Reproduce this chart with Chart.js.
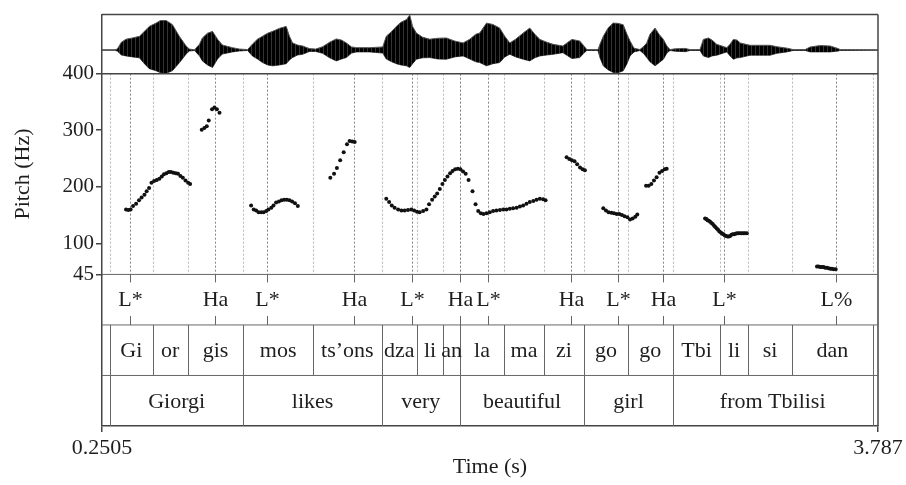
<!DOCTYPE html>
<html>
<head>
<meta charset="utf-8">
<title>Pitch track with TextGrid</title>
<script src="https://cdn.jsdelivr.net/npm/chart.js@4.4.1/dist/chart.umd.min.js"></script>
<style>
  html, body { margin: 0; padding: 0; background: #fff; }
</style>
</head>
<body>
<canvas id="pitchChart" width="906" height="485"></canvas>
<script>
// Time axis
const timeTicks = [0.2505, 3.787];
const xTickLabels = ['0.2505', '3.787'];
const pitchTicks = [45, 100, 200, 300, 400];

// Waveform envelope (upper / lower amplitude, arbitrary units)
const waveTime = [0.2505, 0.307, 0.320, 0.339, 0.360, 0.389, 0.421, 0.444, 0.466, 0.497, 0.517, 0.543, 0.571, 0.603, 0.634, 0.649, 0.672,
  0.695, 0.708, 0.731, 0.754, 0.777, 0.799, 0.845, 0.877, 0.914, 0.936, 0.959, 0.982, 1.005, 1.028, 1.060, 1.090, 1.105, 1.119, 1.142,
  1.165, 1.196, 1.224, 1.256, 1.288, 1.318, 1.342, 1.364, 1.388, 1.411, 1.470, 1.530, 1.546, 1.571, 1.592, 1.612, 1.638, 1.653, 1.666,
  1.683, 1.712, 1.744, 1.781, 1.820, 1.858, 1.896, 1.927, 1.954, 1.972, 2.003, 2.032, 2.063, 2.086, 2.109, 2.136, 2.170, 2.200, 2.223,
  2.246, 2.278, 2.307, 2.351, 2.374, 2.392, 2.428, 2.447, 2.460, 2.511, 2.520, 2.535, 2.556, 2.580, 2.602, 2.626, 2.643, 2.657, 2.675,
  2.702, 2.721, 2.733, 2.748, 2.771, 2.789, 2.809, 2.825, 2.839, 2.862, 2.908, 2.930, 2.976, 2.991, 3.014, 3.031, 3.052, 3.098, 3.113,
  3.128, 3.145, 3.159, 3.204, 3.295, 3.326, 3.372, 3.400, 3.455, 3.478, 3.524, 3.569, 3.600, 3.615, 3.787];
const waveUpper = [0.01, 0.01, 0.04, 0.33, 0.46, 0.51, 0.58, 0.79, 1.0, 1.14, 1.25, 1.25, 1.08, 0.58, 0.17, 0.04, 0.01,
  0.25, 0.51, 0.71, 0.79, 0.46, 0.21, 0.10, 0.04, 0.02, 0.25, 0.46, 0.58, 0.71, 0.79, 0.92, 1.0, 0.58, 0.30, 0.21,
  0.17, 0.06, 0.04, 0.14, 0.33, 0.47, 0.42, 0.30, 0.13, 0.10, 0.10, 0.13, 0.58, 0.79, 1.0, 1.17, 1.29, 1.48, 1.0,
  0.72, 0.54, 0.46, 0.50, 0.51, 0.38, 0.30, 0.46, 0.67, 0.72, 1.14, 1.08, 0.93, 0.58, 0.30, 0.46, 0.72, 0.93, 0.67,
  0.45, 0.33, 0.24, 0.17, 0.33, 0.45, 0.38, 0.17, 0.02, 0.02, 0.25, 0.58, 0.92, 1.14, 1.13, 1.07, 0.67, 0.38, 0.08,
  0.02, 0.17, 0.30, 0.67, 0.93, 0.67, 0.45, 0.17, 0.02, 0.05, 0.07, 0.02, 0.02, 0.45, 0.51, 0.42, 0.24, 0.10, 0.25,
  0.45, 0.42, 0.30, 0.20, 0.20, 0.14, 0.08, 0.02, 0.02, 0.13, 0.19, 0.17, 0.08, 0.02, 0.01];
const waveLower = [-0.01, -0.01, -0.04, -0.21, -0.25, -0.29, -0.33, -0.58, -0.79, -0.88, -0.96, -0.98, -0.88, -0.54, -0.17, -0.04, -0.02,
  -0.25, -0.46, -0.63, -0.74, -0.38, -0.17, -0.08, -0.04, -0.02, -0.25, -0.38, -0.53, -0.63, -0.67, -0.63, -0.58, -0.42, -0.32, -0.21,
  -0.18, -0.06, -0.06, -0.14, -0.33, -0.46, -0.38, -0.32, -0.13, -0.08, -0.08, -0.13, -0.38, -0.50, -0.58, -0.63, -0.67, -0.74, -0.58,
  -0.39, -0.33, -0.32, -0.38, -0.39, -0.29, -0.25, -0.38, -0.50, -0.53, -0.67, -0.58, -0.53, -0.29, -0.18, -0.29, -0.39, -0.46, -0.33,
  -0.25, -0.21, -0.18, -0.11, -0.25, -0.36, -0.32, -0.13, -0.02, -0.02, -0.33, -0.67, -0.83, -0.95, -0.96, -0.88, -0.58, -0.25, -0.08,
  -0.02, -0.17, -0.32, -0.50, -0.67, -0.54, -0.39, -0.13, -0.02, -0.05, -0.07, -0.02, -0.02, -0.25, -0.32, -0.25, -0.22, -0.08, -0.25,
  -0.39, -0.33, -0.32, -0.22, -0.22, -0.14, -0.08, -0.02, -0.02, -0.08, -0.08, -0.08, -0.05, -0.02, -0.01];

// F0 samples (s, Hz)
const pitchTime = [
  0.360, 0.370, 0.381, 0.392, 0.406, 0.419, 0.431, 0.444, 0.454, 0.465, 0.476, 0.488, 0.500, 0.512, 0.523, 0.533, 0.544, 0.555,
  0.565, 0.576, 0.587, 0.597, 0.608, 0.619, 0.631, 0.643, 0.652,
  0.705, 0.717, 0.728, 0.737, 0.752, 0.763, 0.774, 0.786,
  0.930, 0.942, 0.953, 0.964, 0.976, 0.987, 0.999, 1.009, 1.022, 1.032, 1.044, 1.057, 1.069, 1.081, 1.093, 1.105, 1.117, 1.130, 1.143,
  1.291, 1.308, 1.321, 1.336, 1.352, 1.367, 1.379, 1.391, 1.402,
  1.546, 1.559, 1.571, 1.584, 1.600, 1.615, 1.630, 1.645, 1.660, 1.673, 1.686, 1.698, 1.714, 1.729, 1.741, 1.755, 1.767, 1.778,
  1.790, 1.802, 1.813, 1.825, 1.837, 1.848, 1.860, 1.872, 1.884, 1.896, 1.908, 1.921, 1.939, 1.953, 1.965, 1.977, 1.989, 2.003,
  2.018, 2.033, 2.048, 2.064, 2.079, 2.094, 2.109, 2.124, 2.140, 2.155, 2.170, 2.185, 2.200, 2.216, 2.231, 2.246, 2.261, 2.272,
  2.368, 2.380, 2.392, 2.404, 2.416, 2.429, 2.441, 2.451,
  2.535, 2.547, 2.559, 2.572, 2.584, 2.596, 2.608, 2.620, 2.632, 2.645, 2.657, 2.669, 2.681, 2.690,
  2.730, 2.742, 2.754, 2.766, 2.778, 2.791, 2.803, 2.815, 2.824,
  2.999, 3.005, 3.010, 3.016, 3.022, 3.028, 3.034, 3.040, 3.046, 3.052, 3.058, 3.064, 3.071, 3.077, 3.083, 3.089, 3.095, 3.101,
  3.107, 3.113, 3.119, 3.125, 3.131, 3.138, 3.144, 3.151, 3.159, 3.166, 3.174, 3.181, 3.189,
  3.509, 3.516, 3.524, 3.531, 3.539, 3.546, 3.554, 3.562, 3.570, 3.577, 3.585, 3.594];
const pitchHz = [
  160, 159, 160, 166, 170, 176, 181, 186, 192, 198, 207, 210, 212, 214, 218, 222, 224, 226,
  226, 225, 224, 223, 219, 216, 211, 207, 205,
  301, 304, 307, 317, 337, 340, 337, 331,
  167, 160, 158, 155, 155, 155, 157, 160, 163, 167, 172, 174, 176, 177, 177, 176, 174, 171, 166,
  216, 223, 233, 247, 261, 275, 281, 280, 279,
  179, 173, 167, 163, 160, 158, 158, 159, 160, 158, 156, 155, 157, 160, 169, 177, 183, 188,
  196, 205, 212, 218, 224, 228, 231, 232, 231, 227, 223, 212, 192, 169, 157, 153, 152, 153,
  155, 157, 158, 159, 160, 160, 161, 162, 163, 165, 167, 170, 173, 175, 177, 179, 178, 176,
  252, 249, 247, 245, 240, 234, 231, 229,
  162, 158, 155, 154, 153, 152, 152, 150, 148, 146, 142, 144, 147, 151,
  202, 202, 205, 211, 217, 225, 228, 231, 232,
  144, 143, 141, 140, 138, 136, 134, 131, 129, 126, 124, 121, 119, 117, 116, 114, 113, 112,
  112, 113, 115, 116, 116, 117, 118, 118, 118, 118, 118, 118, 118,
  59, 59, 58, 58, 58, 57, 57, 56, 55, 55, 54, 54];

// Tone tier (points)
const toneTimes = [0.378, 0.764, 1.002, 1.399, 1.661, 1.882, 2.010, 2.389, 2.603, 2.806, 3.083, 3.595];
const toneLabels = ['L*', 'Ha', 'L*', 'Ha', 'L*', 'Ha', 'L*', 'Ha', 'L*', 'Ha', 'L*', 'L%'];

// Syllable tier (interval boundaries)
const syllableBounds = [0.287, 0.481, 0.641, 0.895, 1.212, 1.525, 1.686, 1.805, 1.882, 2.083, 2.264, 2.448, 2.646, 2.852,
  3.068, 3.194, 3.396, 3.762];
const syllableLabels = ['Gi', 'or', 'gis', 'mos', 'ts\u2019ons', 'dza', 'li', 'an', 'la', 'ma', 'zi', 'go', 'go', 'Tbi', 'li', 'si', 'dan'];

// Word tier
const wordBounds = [0.287, 0.895, 1.525, 1.882, 2.448, 2.852, 3.762];
const wordLabels = ['Giorgi', 'likes', 'very', 'beautiful', 'girl', 'from Tbilisi'];

const FONT = '"Liberation Serif", "Times New Roman", serif';
const INK = '#1e1e1e';
const FRAME = '#444';

function seg(ctx, x1, y1, x2, y2) {
    ctx.beginPath();
    ctx.moveTo(x1, y1);
    ctx.lineTo(x2, y2);
    ctx.stroke();
}

// faint vertical hatch so the waveform fill reads as sample strokes
function stripePattern() {
    const c = document.createElement('canvas');
    c.width = 4; c.height = 1;
    const g = c.getContext('2d');
    g.fillStyle = '#000'; g.fillRect(0, 0, 3, 1);
    g.fillStyle = '#333'; g.fillRect(3, 0, 1, 1);
    return g.createPattern(c, 'repeat');
}

const textGridPlugin = {
    id: 'textGrid',
    beforeDatasetsDraw(chart) {
        const { ctx } = chart;
        const x = chart.scales.x, yp = chart.scales.yp;
        ctx.save();
        ctx.lineWidth = 1;
        ctx.setLineDash([2, 2]);
        ctx.strokeStyle = '#b8b8b8';
        syllableBounds.forEach(t => {
            const px = Math.round(x.getPixelForValue(t)) + 0.5;
            seg(ctx, px, yp.top, px, yp.bottom);
        });
        ctx.strokeStyle = '#888';
        toneTimes.forEach(t => {
            const px = Math.round(x.getPixelForValue(t)) + 0.5;
            seg(ctx, px, yp.top, px, yp.bottom);
        });
        ctx.restore();
    },
    afterDatasetsDraw(chart) {
        const { ctx, chartArea: a } = chart;
        const x = chart.scales.x, yw = chart.scales.yw, yt = chart.scales.yt;
        const t0 = yt.getPixelForValue(0), t1 = yt.getPixelForValue(1);
        const t2 = yt.getPixelForValue(2), t3 = yt.getPixelForValue(3);
        ctx.save();

        // outer frame and panel separators
        ctx.strokeStyle = FRAME;
        ctx.lineWidth = 1.5;
        seg(ctx, a.left, a.top, a.right, a.top);
        seg(ctx, a.right, a.top, a.right, a.bottom);
        seg(ctx, a.left, yw.bottom, a.right, yw.bottom);
        ctx.strokeStyle = '#666';
        ctx.lineWidth = 1;
        seg(ctx, a.left, t0, a.right, t0);
        seg(ctx, a.left, t1, a.right, t1);
        seg(ctx, a.left, t2, a.right, t2);

        ctx.font = '22px ' + FONT;
        ctx.fillStyle = INK;
        ctx.textAlign = 'center';
        ctx.textBaseline = 'middle';

        // tone tier: point marks with labels
        ctx.strokeStyle = '#666';
        toneTimes.forEach((t, i) => {
            const px = Math.round(x.getPixelForValue(t)) + 0.5;
            seg(ctx, px, t0, px, t0 + 8);
            seg(ctx, px, t1 - 9, px, t1);
            ctx.fillText(toneLabels[i], px, (t0 + t1) / 2 + 1);
        });

        // interval tiers
        const drawIntervals = (bounds, labels, top, bottom) => {
            bounds.forEach(t => {
                const px = Math.round(x.getPixelForValue(t)) + 0.5;
                seg(ctx, px, top, px, bottom);
            });
            labels.forEach((lab, i) => {
                const mid = (x.getPixelForValue(bounds[i]) + x.getPixelForValue(bounds[i + 1])) / 2;
                ctx.fillText(lab, mid, (top + bottom) / 2 + 1);
            });
        };
        drawIntervals(syllableBounds, syllableLabels, t1, t2);
        drawIntervals(wordBounds, wordLabels, t2, t3);

        ctx.restore();
    }
};

const fixedWidth = s => { s.width = 102; };

new Chart(document.getElementById('pitchChart'), {
    type: 'scatter',
    data: {
        datasets: [
            {
                data: waveTime.map((t, i) => ({ x: t, y: waveUpper[i] })),
                yAxisID: 'yw',
                showLine: true,
                pointRadius: 0,
                borderWidth: 1,
                borderColor: '#555',
                backgroundColor: stripePattern(),
                fill: '+1'
            },
            {
                data: waveTime.map((t, i) => ({ x: t, y: waveLower[i] })),
                yAxisID: 'yw',
                showLine: true,
                pointRadius: 0,
                borderWidth: 1,
                borderColor: '#555',
                fill: false
            },
            {
                data: pitchTime.map((t, i) => ({ x: t, y: pitchHz[i] })),
                yAxisID: 'yp',
                showLine: false,
                pointRadius: 2,
                pointBorderWidth: 0,
                pointBackgroundColor: '#111'
            }
        ]
    },
    options: {
        responsive: false,
        animation: false,
        layout: { padding: { top: 8, right: 28, left: 0, bottom: 0 } },
        plugins: { legend: { display: false }, tooltip: { enabled: false } },
        scales: {
            x: {
                type: 'linear',
                min: 0.2505,
                max: 3.787,
                afterBuildTicks: s => { s.ticks = timeTicks.map(v => ({ value: v })); },
                afterFit: s => { s.height = 59; },
                ticks: {
                    callback: (v, i) => xTickLabels[i],
                    font: { family: FONT, size: 22 },
                    color: INK,
                    padding: 3,
                    maxRotation: 0,
                    autoSkip: false
                },
                grid: { drawOnChartArea: false, tickLength: 6, color: FRAME, lineWidth: 1.5 },
                border: { color: FRAME, width: 1.5 },
                title: {
                    display: true,
                    text: 'Time (s)',
                    font: { family: FONT, size: 22 },
                    color: INK,
                    padding: { top: 0, bottom: 5 }
                }
            },
            yw: {
                type: 'linear',
                position: 'left',
                stack: 'panels',
                stackWeight: 60,
                weight: 3,
                min: -1,
                max: 1.5,
                afterFit: fixedWidth,
                ticks: { display: false },
                grid: { display: false },
                border: { color: FRAME, width: 1.5 }
            },
            yp: {
                type: 'linear',
                position: 'left',
                stack: 'panels',
                stackWeight: 204,
                weight: 2,
                min: 45,
                max: 400,
                afterBuildTicks: s => { s.ticks = pitchTicks.map(v => ({ value: v })); },
                afterFit: fixedWidth,
                ticks: {
                    font: { family: FONT, size: 21 },
                    color: INK,
                    padding: 2,
                    autoSkip: false
                },
                grid: { drawOnChartArea: false, tickLength: 6, color: FRAME, lineWidth: 1.5 },
                border: { color: FRAME, width: 1.5 },
                title: {
                    display: true,
                    text: 'Pitch (Hz)',
                    font: { family: FONT, size: 22 },
                    color: INK,
                    padding: { top: 10, bottom: 0 }
                }
            },
            yt: {
                type: 'linear',
                position: 'left',
                stack: 'panels',
                stackWeight: 154,
                weight: 1,
                min: 0,
                max: 3,
                reverse: true,
                afterFit: fixedWidth,
                ticks: { display: false },
                grid: { display: false },
                border: { color: FRAME, width: 1.5 }
            }
        }
    },
    plugins: [textGridPlugin]
});
</script>
</body>
</html>
